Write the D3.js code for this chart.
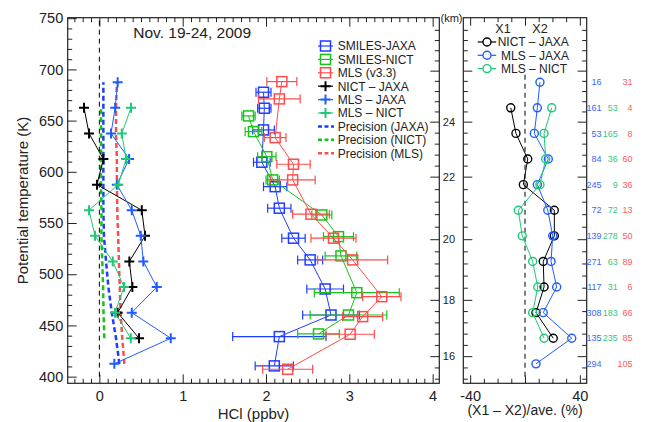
<!DOCTYPE html>
<html>
<head>
<meta charset="utf-8">
<script src="https://cdn.jsdelivr.net/npm/d3@7"></script>
<style>
  body { margin: 0; background: #fff; }
  svg { font-family: "Liberation Sans", Arial, sans-serif; }
</style>
</head>
<body>
<div id="chart"></div>
<script>
/* HCl profiles, SMILES vs MLS, Nov. 19-24 2009 */

// theta levels of the difference profiles (K), bottom to top
const levels = [412.5, 437.5, 462.5, 487.5, 512.5, 537.5, 562.5, 587.5, 612.5, 637.5, 662.5, 687.5];

// absolute differences (ppbv) on those levels
const diffNictJaxa = [null, 0.476, 0.22, 0.396, 0.36, 0.548, 0.509, -0.028, 0.048, -0.124, -0.184, null];
const diffMlsJaxa  = [0.18, 0.857, 0.389, 0.689, 0.528, 0.497, 0.389, 0.21, 0.357, 0.14, 0.19, 0.22];
const diffMlsNict  = [null, 0.377, 0.188, 0.296, 0.161, -0.052, -0.124, 0.228, 0.32, 0.269, 0.38, null];

// precision of each data set (ppbv)
const precJaxa = [0.24, 0.2, 0.149, 0.108, 0.08, 0.055, 0.048, 0.048, 0.048, 0.048, 0.048, 0.048];
const precNict = [null, 0.06, 0.05, 0.045, 0.035, 0.025, 0.025, 0.02, 0.02, 0.02, 0.02, null];
const precMls  = [0.3, 0.275, 0.255, 0.245, 0.235, 0.225, 0.215, 0.21, 0.21, 0.2, 0.2, 0.21];

// mean profiles: theta (K), HCl (ppbv), error bar (ppbv)
const jaxaTheta = [410.5, 439.1, 460.2, 485.6, 514.0, 535.2, 564.5, 585.5, 609.4, 640.9, 662.1, 677.7];
const jaxaHcl   = [2.10, 2.16, 2.78, 2.71, 2.53, 2.33, 2.16, 2.11, 1.95, 1.97, 1.98, 1.97];
const jaxaErr   = [0.23, 0.56, 0.34, 0.22, 0.15, 0.14, 0.14, 0.14, 0.10, 0.13, 0.08, 0.09];

const nictTheta = [441.7, 460.2, 482.0, 517.9, 536.7, 557.9, 592.1, 614.8, 639.3, 654.6];
const nictHcl   = [2.63, 2.99, 3.09, 2.90, 2.87, 2.67, 2.08, 2.01, 1.85, 1.79];
const nictErr   = [0.25, 0.46, 0.51, 0.19, 0.18, 0.12, 0.08, 0.11, 0.10, 0.08];

const mlsTheta = [407.2, 441.4, 458.6, 478.1, 514.0, 535.2, 558.6, 592.1, 607.4, 633.4, 671.2, 688.1];
const mlsHcl   = [2.26, 3.01, 3.16, 3.39, 3.04, 2.81, 2.54, 2.32, 2.33, 2.11, 2.16, 2.19];
const mlsErr   = [0.30, 0.29, 0.24, 0.23, 0.42, 0.27, 0.22, 0.27, 0.20, 0.13, 0.25, 0.18];

// relative differences (%) on the levels
const pctNictJaxa = [null, 20.6, 8.0, 13.9, 13.3, 21.4, 21.4, -1.2, 2.0, -6.6, -10.4, null];
const pctMlsJaxa  = [8.0, 34.1, 13.3, 23.1, 19.0, 20.2, 16.6, 9.0, 17.0, 6.8, 9.0, 10.9];
const pctMlsNict  = [null, 13.9, 5.6, 9.3, 5.6, -2.0, -4.9, 10.9, 15.1, 13.9, 19.5, null];

// number of coincidences per level
const countJaxa = [294, 135, 308, 117, 271, 139, 72, 245, 84, 53, 161, 16];
const countNict = [null, 235, 183, 31, 63, 278, 72, 9, 36, 165, 53, null];
const countMls  = [105, 85, 66, 6, 89, 50, 13, 36, 60, 8, 4, 31];

// altitude axis: km -> theta
const kmTicks = [16, 18, 20, 22, 24, 26];
const kmTheta = [420.0, 475.0, 534.2, 595.3, 649.0, 698.8];

const thetaTicks = [400, 450, 500, 550, 600, 650, 700, 750];
const hclTicks = [0, 1, 2, 3, 4];
const pctTicks = [-40, 0, 40];
const pctLabels = [-40, 40];

const legendNames = ["SMILES-JAXA", "SMILES-NICT", "MLS (v3.3)", "NICT \u2013 JAXA", "MLS \u2013 JAXA", "MLS \u2013 NICT",
                     "Precision (JAXA)", "Precision (NICT)", "Precision (MLS)"];
const legendRight = ["NICT \u2013 JAXA", " MLS \u2013 JAXA", " MLS \u2013 NICT"];

// colours
const cJaxa = "#1f3cff", cNict = "#18c418", cMls = "#ff4c4c";
const cNJ = "#000000", cMJ = "#1f5cff", cMN = "#1ec877";
const ink = "#222";

const width = 648, height = 422;
let svg = d3.select("#chart").append("svg")
    .attr("width", width).attr("height", height);

// scales
let y = d3.scaleLinear().domain([393.5, 750.5]).range([383.3, 17.7]);
let x = d3.scaleLinear().domain([-0.38, 4.08]).range([67.7, 439.3]);
let xr = d3.scaleLinear().domain([-45, 45]).range([463.3, 586.7]);
let kmY = d3.scaleLinear().domain(kmTicks).range(kmTheta.map(t => y(t)));

const kmAll = d3.range(38, 70).map(i => +(i * 0.4).toFixed(1))
    .filter(k => kmY(k) > y.range()[1] + 2 && kmY(k) < y.range()[0] - 1);
const kmMajor = kmAll.filter(k => Number.isInteger(k) && k % 2 === 0);
const kmMinor = kmAll.filter(k => !(Number.isInteger(k) && k % 2 === 0));

// small helper for styling axes
function styled(g, fs) {
    g.select(".domain").remove();
    g.selectAll("line").attr("stroke", ink).attr("stroke-width", 1);
    g.selectAll("text").attr("fill", ink).style("font-size", fs + "px");
    return g;
}
const blank = () => "";
const plain = d => String(d);

// ---------- left panel axes ----------
svg.append("g").attr("transform", `translate(0,${y.range()[0]})`)
    .call(d3.axisBottom(x).tickValues(hclTicks).tickSize(-9).tickPadding(7.5).tickFormat(plain))
    .call(g => styled(g, 14.5));
svg.append("g").attr("transform", `translate(0,${y.range()[0]})`)
    .call(d3.axisBottom(x).tickValues(d3.range(-3, 41).filter(i => i % 10 !== 0).map(i => i / 10)).tickSize(-4.5).tickFormat(blank))
    .call(g => styled(g, 10));
svg.append("g").attr("transform", `translate(0,${y.range()[1]})`)
    .call(d3.axisTop(x).tickValues(hclTicks).tickSize(-9).tickFormat(blank))
    .call(g => styled(g, 10));
svg.append("g").attr("transform", `translate(0,${y.range()[1]})`)
    .call(d3.axisTop(x).tickValues(d3.range(-3, 41).filter(i => i % 10 !== 0).map(i => i / 10)).tickSize(-4.5).tickFormat(blank))
    .call(g => styled(g, 10));
svg.append("g").attr("transform", `translate(${x.range()[0]},0)`)
    .call(d3.axisLeft(y).tickValues(thetaTicks).tickSize(-9).tickPadding(4.5).tickFormat(plain))
    .call(g => styled(g, 14.5));
svg.append("g").attr("transform", `translate(${x.range()[0]},0)`)
    .call(d3.axisLeft(y).tickValues(d3.range(400, 751, 10).filter(v => v % 50 !== 0)).tickSize(-4.5).tickFormat(blank))
    .call(g => styled(g, 10));
// km axis on the right of the left panel
svg.append("g").attr("transform", `translate(${x.range()[1]},0)`)
    .call(d3.axisRight(kmY).tickValues(kmMajor).tickSize(-9).tickPadding(3.5)
        .tickFormat(k => k <= 24 ? String(k) : ""))
    .call(g => styled(g, 11));
svg.append("g").attr("transform", `translate(${x.range()[1]},0)`)
    .call(d3.axisRight(kmY).tickValues(kmMinor).tickSize(-4.5).tickFormat(blank))
    .call(g => styled(g, 10));

svg.append("rect")
    .attr("x", x.range()[0]).attr("y", y.range()[1])
    .attr("width", x.range()[1] - x.range()[0]).attr("height", y.range()[0] - y.range()[1])
    .attr("fill", "none").attr("stroke", ink).attr("stroke-width", 1.2);

svg.append("text").text("(km)")
    .attr("x", 440.5).attr("y", 22).attr("fill", ink).style("font-size", "11px");

// ---------- right panel axes ----------
svg.append("g").attr("transform", `translate(0,${y.range()[0]})`)
    .call(d3.axisBottom(xr).tickValues(pctTicks).tickSize(-8).tickPadding(7.5)
        .tickFormat(d => pctLabels.includes(d) ? String(d) : ""))
    .call(g => styled(g, 14.5));
svg.append("g").attr("transform", `translate(0,${y.range()[0]})`)
    .call(d3.axisBottom(xr).tickValues([-30, -20, -10, 10, 20, 30]).tickSize(-4.5).tickFormat(blank))
    .call(g => styled(g, 10));
svg.append("g").attr("transform", `translate(0,${y.range()[1]})`)
    .call(d3.axisTop(xr).tickValues(pctTicks).tickSize(-8).tickFormat(blank))
    .call(g => styled(g, 10));
svg.append("g").attr("transform", `translate(0,${y.range()[1]})`)
    .call(d3.axisTop(xr).tickValues([-30, -20, -10, 10, 20, 30]).tickSize(-4.5).tickFormat(blank))
    .call(g => styled(g, 10));
for (const [pos, make] of [[xr.range()[0], d3.axisLeft], [xr.range()[1], d3.axisRight]]) {
    svg.append("g").attr("transform", `translate(${pos},0)`)
        .call(make(kmY).tickValues(kmMajor).tickSize(-9).tickFormat(blank))
        .call(g => styled(g, 10));
    svg.append("g").attr("transform", `translate(${pos},0)`)
        .call(make(kmY).tickValues(kmMinor).tickSize(-4.5).tickFormat(blank))
        .call(g => styled(g, 10));
}
svg.append("rect")
    .attr("x", xr.range()[0]).attr("y", y.range()[1])
    .attr("width", xr.range()[1] - xr.range()[0]).attr("height", y.range()[0] - y.range()[1])
    .attr("fill", "none").attr("stroke", ink).attr("stroke-width", 1.2);

// ---------- axis titles ----------
svg.append("text").text("Potential temperature (K)")
    .attr("transform", `translate(28,${(y.range()[0] + y.range()[1]) / 2}) rotate(-90)`)
    .attr("text-anchor", "middle").attr("fill", ink).style("font-size", "15px");
svg.append("text").text("HCl (ppbv)")
    .attr("x", (x.range()[0] + x.range()[1]) / 2).attr("y", 419)
    .attr("text-anchor", "middle").attr("fill", ink).style("font-size", "15px");
svg.append("text").text("(X1 \u2013 X2)/ave. (%)")
    .attr("x", xr(0)).attr("y", 415)
    .attr("text-anchor", "middle").attr("fill", ink).style("font-size", "14px");
svg.append("text").text("Nov. 19-24, 2009")
    .attr("x", 133.3).attr("y", 38).attr("fill", ink).style("font-size", "15.5px");

// ---------- left panel marks ----------
// zero line
svg.append("line")
    .attr("x1", x(0)).attr("x2", x(0)).attr("y1", y(400)).attr("y2", y(750))
    .attr("stroke", "#000").attr("stroke-width", 1).attr("stroke-dasharray", "5,4");

// precision lines
const precLine = d3.line().x(d => x(d[1])).y(d => y(d[0]));
[[precJaxa, cJaxa], [precNict, cNict], [precMls, cMls]].forEach(([vals, col]) => {
    svg.append("path")
        .attr("d", precLine(levels.map((t, i) => [t, vals[i]]).filter(d => d[1] != null)))
        .attr("fill", "none").attr("stroke", col).attr("stroke-width", 2.5)
        .attr("stroke-dasharray", "5,3");
});

const plus = "M-5,0H5M0,-5V5";

// difference profiles with plus markers
[[diffNictJaxa, cNJ], [diffMlsJaxa, cMJ], [diffMlsNict, cMN]].forEach(([vals, col]) => {
    let pts = levels.map((t, i) => [t, vals[i]]).filter(d => d[1] != null);
    svg.append("path")
        .attr("d", d3.line().x(d => x(d[1])).y(d => y(d[0]))(pts))
        .attr("fill", "none").attr("stroke", col).attr("stroke-width", 1);
    svg.append("g").selectAll("path")
        .data(pts).join("path")
        .attr("d", plus)
        .attr("transform", d => `translate(${x(d[1])},${y(d[0])})`)
        .attr("stroke", col).attr("stroke-width", 2);
});

// mean profiles with error bars and squares
[[jaxaTheta, jaxaHcl, jaxaErr, cJaxa], [nictTheta, nictHcl, nictErr, cNict], [mlsTheta, mlsHcl, mlsErr, cMls]]
    .forEach(([th, v, e, col]) => {
        let pts = th.map((t, i) => ({ t: t, v: v[i], e: e[i] }));
        let g = svg.append("g");
        let eb = g.selectAll(".eb").data(pts).join("g").attr("class", "eb")
            .attr("stroke", col).attr("stroke-width", 1.2).attr("fill", "none");
        eb.append("line")
            .attr("x1", d => x(d.v - d.e)).attr("x2", d => x(d.v + d.e))
            .attr("y1", d => y(d.t)).attr("y2", d => y(d.t));
        eb.append("line")
            .attr("x1", d => x(d.v - d.e)).attr("x2", d => x(d.v - d.e))
            .attr("y1", d => y(d.t) - 4.5).attr("y2", d => y(d.t) + 4.5);
        eb.append("line")
            .attr("x1", d => x(d.v + d.e)).attr("x2", d => x(d.v + d.e))
            .attr("y1", d => y(d.t) - 4.5).attr("y2", d => y(d.t) + 4.5);
        g.append("path")
            .attr("d", d3.line().x(d => x(d.v)).y(d => y(d.t))(pts))
            .attr("fill", "none").attr("stroke", col).attr("stroke-width", 1);
        g.selectAll("rect").data(pts).join("rect")
            .attr("x", d => x(d.v) - 5).attr("y", d => y(d.t) - 5)
            .attr("width", 10).attr("height", 10)
            .attr("fill", "none").attr("stroke", col).attr("stroke-width", 1.5);
    });

// left legend
const legKinds = ["sq", "sq", "sq", "plus", "plus", "plus", "dash", "dash", "dash"];
const legCols = [cJaxa, cNict, cMls, cNJ, cMJ, cMN, cJaxa, cNict, cMls];
let leg = svg.append("g").selectAll("g")
    .data(legendNames).join("g")
    .attr("transform", (d, i) => `translate(318,${46 + i * 13.4})`);
leg.each(function (d, i) {
    let g = d3.select(this), col = legCols[i];
    if (legKinds[i] === "dash") {
        g.append("line").attr("x1", 0).attr("x2", 16).attr("y1", 0).attr("y2", 0)
            .attr("stroke", col).attr("stroke-width", 2.5).attr("stroke-dasharray", "4,2.5");
    } else {
        g.append("line").attr("x1", 0).attr("x2", 15).attr("y1", 0).attr("y2", 0)
            .attr("stroke", col).attr("stroke-width", 1.2);
        if (legKinds[i] === "sq") {
            g.append("rect").attr("x", 2.5).attr("y", -5).attr("width", 10).attr("height", 10)
                .attr("fill", "none").attr("stroke", col).attr("stroke-width", 1.5);
        } else {
            g.append("path").attr("d", plus).attr("transform", "translate(7.5,0)")
                .attr("stroke", col).attr("stroke-width", 2);
        }
    }
    g.append("text").text(d).attr("x", 19.7).attr("y", 4.3)
        .attr("fill", ink).style("font-size", "12px");
});

// ---------- right panel marks ----------
svg.append("line")
    .attr("x1", xr(0)).attr("x2", xr(0)).attr("y1", y(400)).attr("y2", y(697))
    .attr("stroke", "#555").attr("stroke-width", 1.5).attr("stroke-dasharray", "5,4");

[[pctNictJaxa, cNJ], [pctMlsJaxa, cMJ], [pctMlsNict, cMN]].forEach(([vals, col]) => {
    let pts = levels.map((t, i) => [t, vals[i]]).filter(d => d[1] != null);
    svg.append("path")
        .attr("d", d3.line().x(d => xr(d[1])).y(d => y(d[0]))(pts))
        .attr("fill", "none").attr("stroke", col).attr("stroke-width", 1);
    svg.append("g").selectAll("circle")
        .data(pts).join("circle")
        .attr("cx", d => xr(d[1])).attr("cy", d => y(d[0])).attr("r", 4)
        .attr("fill", "none").attr("stroke", col).attr("stroke-width", 1.4);
});

// right legend
svg.append("text").text("X1").attr("x", 503).attr("y", 32.8).attr("text-anchor", "middle")
    .attr("fill", ink).style("font-size", "12.5px");
svg.append("text").text("X2").attr("x", 540).attr("y", 32.8).attr("text-anchor", "middle")
    .attr("fill", ink).style("font-size", "12.5px");
let legR = svg.append("g").selectAll("g")
    .data(legendRight).join("g")
    .attr("transform", (d, i) => `translate(477.7,${42 + i * 13.3})`);
legR.append("line").attr("x1", 0).attr("x2", 18.5).attr("y1", 0).attr("y2", 0)
    .attr("stroke", (d, i) => [cNJ, cMJ, cMN][i]).attr("stroke-width", 1.2);
legR.append("circle").attr("cx", 9.3).attr("cy", 0).attr("r", 4)
    .attr("fill", "#fff").attr("stroke", (d, i) => [cNJ, cMJ, cMN][i]).attr("stroke-width", 1.4);
legR.append("text").text(d => d).attr("x", 20).attr("y", 4.3)
    .attr("fill", ink).style("font-size", "12px").style("white-space", "pre");

// coincidence counts
[[countJaxa, "#3a66ff", 601.5], [countNict, "#35c97a", 617.7], [countMls, "#ff5a5a", 632.5]]
    .forEach(([vals, col, xe]) => {
        svg.append("g").selectAll("text")
            .data(levels.map((t, i) => [t, vals[i]]).filter(d => d[1] != null))
            .join("text")
            .text(d => d[1])
            .attr("x", xe).attr("y", d => y(d[0]) + 3.2)
            .attr("text-anchor", "end").attr("fill", col)
            .style("font-size", "9px");
    });
</script>
</body>
</html>
